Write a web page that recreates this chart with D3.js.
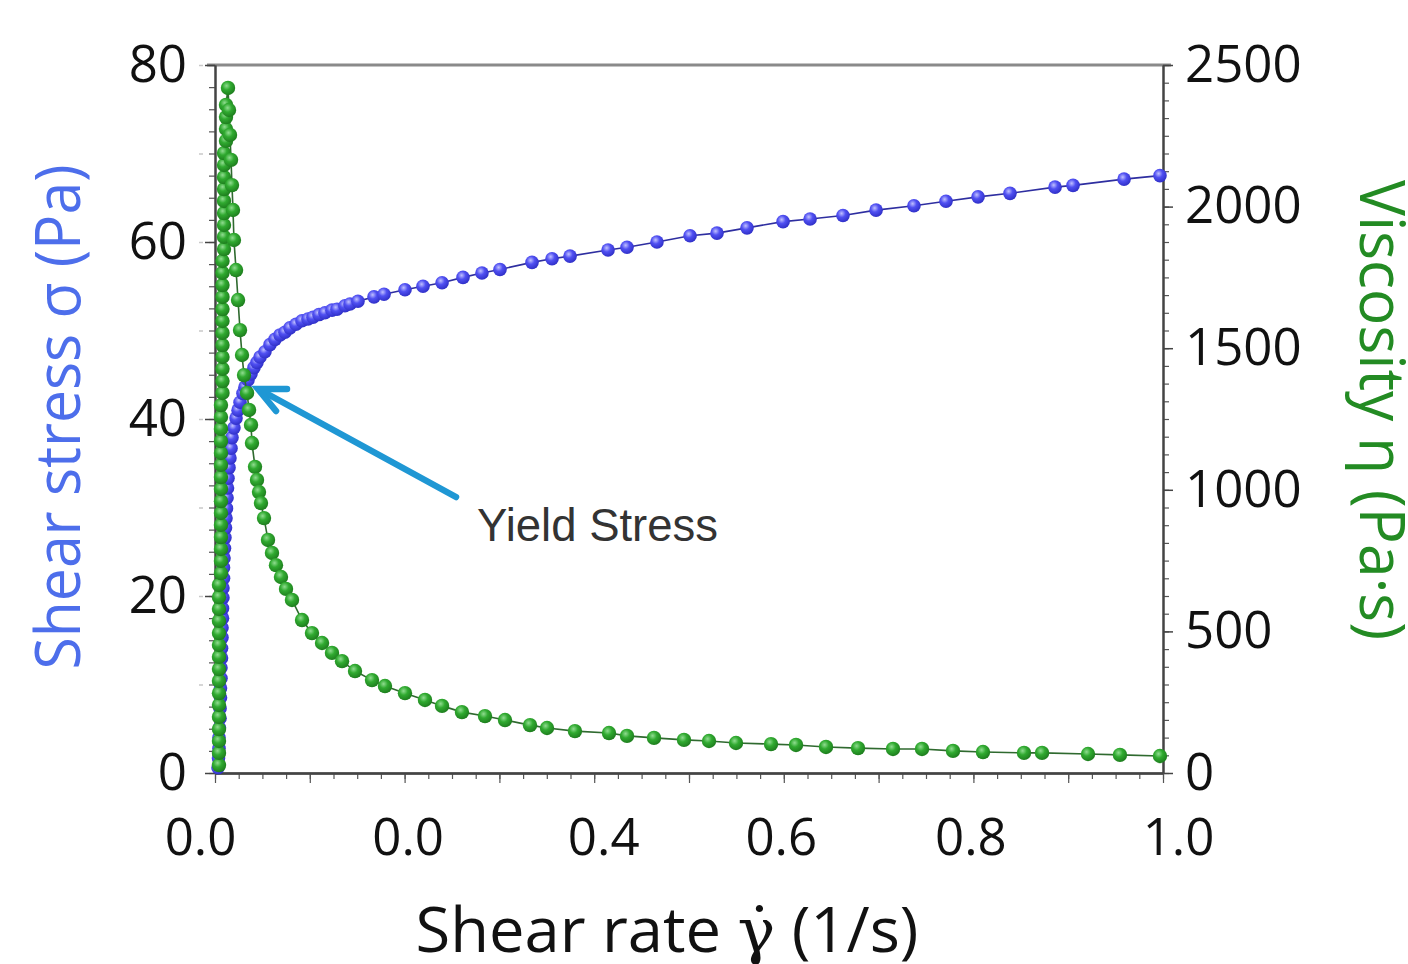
<!DOCTYPE html>
<html>
<head>
<meta charset="utf-8">
<title>Shear stress and viscosity</title>
<script src="https://d3js.org/d3.v7.min.js"></script>
<style>
  html, body { margin: 0; padding: 0; background: #fff; }
  svg { display: block; }
  .tick text { font-family: "Open Sans", sans-serif; font-size: 51px; fill: #111; }
  .axis path.domain { stroke: #444; stroke-width: 2px; }
  .axis .tick line { stroke: #444; stroke-width: 1.5px; }
  .minor .tick line { stroke: #555; stroke-width: 1.2px; }
  .faint .tick line { stroke: #c8c8c8; stroke-width: 1.5px; }
</style>
</head>
<body>
<script>

// shear stress curve (left axis)
var stressRate = [0.0032, 0.0037, 0.0042, 0.0042, 0.0047, 0.0053, 0.0053, 0.0058, 0.0058, 0.0063,
  0.0063, 0.0069, 0.0069, 0.0074, 0.0074, 0.0079, 0.0079, 0.0084, 0.0084, 0.0090,
  0.0090, 0.0095, 0.0100, 0.0105, 0.0111, 0.0116, 0.0121, 0.0127, 0.0132, 0.0137,
  0.0148, 0.0158, 0.0169, 0.0179, 0.0200, 0.0222,
  0.0243, 0.0264, 0.0295, 0.0316, 0.0348, 0.0380, 0.0411, 0.0443, 0.0475, 0.0527,
  0.0580, 0.0633, 0.0686, 0.0738, 0.0791, 0.0854, 0.0918, 0.0981, 0.1034, 0.1097,
  0.1160, 0.1234, 0.1287, 0.1371, 0.1424,
  0.1508, 0.1677, 0.1783, 0.2004, 0.2194, 0.2395, 0.2616, 0.2816, 0.3006,
  0.3344, 0.3555, 0.3745, 0.4146, 0.4346, 0.4662, 0.5011, 0.5295, 0.5612, 0.5992,
  0.6277, 0.6624, 0.6973, 0.7373, 0.7711, 0.8049, 0.8386, 0.8861, 0.9051, 0.9589, 0.9968];
var stress = [0.6, 1.7, 2.8, 4.0, 5.1, 6.2, 7.3, 8.5, 9.6, 10.7,
  11.9, 13.0, 14.1, 15.3, 16.4, 17.5, 18.6, 19.8, 20.9, 22.0,
  23.2, 24.3, 25.4, 26.6, 27.7, 28.8, 29.9, 31.1, 32.2, 33.3,
  34.5, 35.6, 36.7, 37.9, 39.0, 40.1,
  41.0, 41.9, 42.9, 43.6, 44.4, 45.1, 45.8, 46.4, 47.0, 47.6,
  48.4, 49.0, 49.5, 49.8, 50.3, 50.7, 51.1, 51.3, 51.5, 51.8,
  52.0, 52.3, 52.4, 52.8, 53.0,
  53.3, 53.8, 54.1, 54.6, 55.0, 55.4, 56.0, 56.5, 56.9,
  57.7, 58.1, 58.4, 59.1, 59.4, 60.0, 60.7, 61.0, 61.6, 62.3,
  62.6, 63.0, 63.6, 64.1, 64.6, 65.1, 65.5, 66.2, 66.4, 67.1, 67.5];

// viscosity curve (right axis)
var viscRate = [0.0042, 0.0042, 0.0042, 0.0042, 0.0042, 0.0042, 0.0042, 0.0042, 0.0042, 0.0042,
  0.0042, 0.0042, 0.0042, 0.0042, 0.0042, 0.0042,
  0.0063, 0.0063, 0.0063, 0.0063, 0.0063, 0.0063, 0.0063, 0.0063, 0.0063, 0.0063,
  0.0063, 0.0063, 0.0063, 0.0063, 0.0063,
  0.0079, 0.0079, 0.0079, 0.0079, 0.0079, 0.0079, 0.0079, 0.0079, 0.0079, 0.0079,
  0.0079, 0.0079,
  0.0095, 0.0095, 0.0095, 0.0095, 0.0095, 0.0095, 0.0095, 0.0095, 0.0095,
  0.0116, 0.0116, 0.0116, 0.0116,
  0.0137, 0.0148, 0.0158, 0.0169, 0.0179, 0.0190, 0.0200, 0.0222, 0.0243, 0.0264,
  0.0285, 0.0306, 0.0338, 0.0359, 0.0380, 0.0390, 0.0422, 0.0443, 0.0464, 0.0485,
  0.0517, 0.0559, 0.0601, 0.0643, 0.0696, 0.0749, 0.0812, 0.0918, 0.1023, 0.1129,
  0.1234, 0.1340, 0.1477, 0.1656, 0.1793, 0.2004, 0.2215, 0.2395, 0.2605, 0.2848,
  0.3059, 0.3323, 0.3502, 0.3797, 0.4156, 0.4346, 0.4631, 0.4947, 0.5211, 0.5496,
  0.5865, 0.6129, 0.6445, 0.6783, 0.7152, 0.7458, 0.7785, 0.8101, 0.8534, 0.8724,
  0.9209, 0.9546, 0.9968];
var viscosity = [28, 71, 113, 155, 198, 240, 282, 325, 367, 410,
  452, 494, 537, 579, 621, 664,
  706, 749, 791, 833, 876, 918, 960, 1003, 1045, 1088,
  1130, 1172, 1215, 1257, 1299,
  1342, 1384, 1427, 1469, 1511, 1554, 1596, 1638, 1681, 1723,
  1766, 1808,
  1850, 1893, 1935, 1977, 2020, 2062, 2104, 2147, 2189,
  2232, 2274, 2316, 2359,
  2419, 2341, 2253, 2165, 2076, 1988, 1882, 1776, 1670, 1564,
  1476, 1405, 1342, 1282, 1229, 1165, 1081, 1035, 992, 953,
  900, 823, 777, 734, 692, 650, 611, 540, 494, 459,
  424, 395, 360, 328, 307, 282, 258, 237, 215, 201,
  187, 169, 159, 148, 141, 131, 124, 117, 113, 106,
  102, 99, 92, 88, 85, 85, 78, 74, 71, 71,
  67, 64, 60];

var xTickValues = [0, 0.2, 0.4, 0.6, 0.8, 1.0];
var xTickLabels = ["0.0", "0.0", "0.4", "0.6", "0.8", "1.0"];
var leftTicks = [0, 20, 40, 60, 80];
var rightTicks = [0, 500, 1000, 1500, 2000, 2500];

var width = 1408, height = 964;
var plotLeft = 215, plotRight = 1163, plotTop = 65, plotBottom = 773;
// the x labels in the original sit slightly off their ticks
var xLabelShift = [-15, 3, 9, -3, -3, 15];

var svg = d3.select("body").append("svg")
    .attr("width", width)
    .attr("height", height);

var x = d3.scaleLinear().domain([0, 1]).range([plotLeft, plotRight]);
var yL = d3.scaleLinear().domain([0, 80]).range([plotBottom, plotTop]);
var yR = d3.scaleLinear().domain([0, 2500]).range([plotBottom, plotTop]);

var defs = svg.append("defs");
function ballGradient(id, hi, mid, edge) {
  var g = defs.append("radialGradient").attr("id", id)
      .attr("cx", "40%").attr("cy", "35%").attr("r", "65%");
  g.append("stop").attr("offset", "0%").attr("stop-color", hi);
  g.append("stop").attr("offset", "45%").attr("stop-color", mid);
  g.append("stop").attr("offset", "100%").attr("stop-color", edge);
}
ballGradient("blueBall", "#c0c0ff", "#5050f2", "#3030c8");
ballGradient("greenBall", "#90dc90", "#30aa30", "#1e7e1e");

// top border
svg.append("line")
    .attr("x1", plotLeft - 8).attr("x2", plotRight + 8)
    .attr("y1", plotTop).attr("y2", plotTop)
    .attr("stroke", "#8a8a8a").attr("stroke-width", 3);

// faint marks left of the left axis
svg.append("g").attr("class", "faint")
    .attr("transform", "translate(" + (plotLeft - 12) + ",0)")
    .call(d3.axisLeft(yL).tickValues(d3.range(10, 81, 10)).tickSize(4).tickFormat(""))
    .select(".domain").remove();

// left axis
svg.append("g").attr("class", "axis minor")
    .attr("transform", "translate(" + plotLeft + ",0)")
    .call(d3.axisLeft(yL).tickValues(d3.range(0, 80.1, 2.5)).tickSize(6).tickSizeOuter(0).tickFormat(""));
svg.append("g").attr("class", "axis")
    .attr("transform", "translate(" + plotLeft + ",0)")
    .call(d3.axisLeft(yL).tickValues(leftTicks).tickSize(10).tickSizeOuter(0).tickPadding(18));

// right axis
svg.append("g").attr("class", "axis minor")
    .attr("transform", "translate(" + plotRight + ",0)")
    .call(d3.axisRight(yR).tickValues(d3.range(0, 2500.1, 62.5)).tickSize(6).tickSizeOuter(0).tickFormat(""));
svg.append("g").attr("class", "axis")
    .attr("transform", "translate(" + plotRight + ",0)")
    .call(d3.axisRight(yR).tickValues(rightTicks).tickSize(10).tickSizeOuter(0).tickPadding(12)
      .tickFormat(d3.format("d")));

// bottom axis
svg.append("g").attr("class", "axis minor")
    .attr("transform", "translate(0," + plotBottom + ")")
    .call(d3.axisBottom(x).tickValues(d3.range(0, 1.001, 0.025)).tickSize(6).tickSizeOuter(0).tickFormat(""));
svg.append("g").attr("class", "axis minor")
    .attr("transform", "translate(0," + plotBottom + ")")
    .call(d3.axisBottom(x).tickValues(d3.range(0, 1.001, 0.1)).tickSize(10).tickSizeOuter(0).tickFormat(""));
svg.append("g").attr("class", "axis")
    .attr("transform", "translate(0," + plotBottom + ")")
    .call(d3.axisBottom(x).tickValues(xTickValues).tickSize(0).tickSizeOuter(0).tickPadding(46)
      .tickFormat(function(d, i) { return xTickLabels[i]; }))
    .selectAll(".tick text")
    .attr("dx", function(d, i) { return xLabelShift[i]; });

// series
var stressData = stressRate.map(function(r, i) { return [r, stress[i]]; });
var viscData = viscRate.map(function(r, i) { return [r, viscosity[i]]; });

svg.append("path").datum(stressData)
    .attr("fill", "none").attr("stroke", "#2e2ea0").attr("stroke-width", 1.6)
    .attr("d", d3.line().x(function(d) { return x(d[0]); }).y(function(d) { return yL(d[1]); }));
svg.append("g").selectAll("circle").data(stressData).enter().append("circle")
    .attr("cx", function(d) { return x(d[0]); })
    .attr("cy", function(d) { return yL(d[1]); })
    .attr("r", 6.8)
    .attr("fill", "url(#blueBall)");

svg.append("path").datum(viscData)
    .attr("fill", "none").attr("stroke", "#2f6a2f").attr("stroke-width", 1.6)
    .attr("d", d3.line().x(function(d) { return x(d[0]); }).y(function(d) { return yR(d[1]); }));
svg.append("g").selectAll("circle").data(viscData).enter().append("circle")
    .attr("cx", function(d) { return x(d[0]); })
    .attr("cy", function(d) { return yR(d[1]); })
    .attr("r", 7.2)
    .attr("fill", "url(#greenBall)");

// yield stress annotation
svg.append("line")
    .attr("x1", 456).attr("y1", 497).attr("x2", 262).attr("y2", 391)
    .attr("stroke", "#1f97d4").attr("stroke-width", 6.5).attr("stroke-linecap", "round");
svg.append("polyline")
    .attr("points", "287,389 258,389 276,411")
    .attr("fill", "none").attr("stroke", "#1f97d4").attr("stroke-width", 6.5)
    .attr("stroke-linecap", "round").attr("stroke-linejoin", "miter");
svg.append("text")
    .attr("x", 477).attr("y", 541)
    .attr("font-family", "Liberation Sans, Arial, sans-serif")
    .attr("font-size", 45.5).attr("fill", "#333")
    .text("Yield Stress");

// axis titles
svg.append("text")
    .attr("transform", "translate(80,417) rotate(-90)")
    .attr("text-anchor", "middle")
    .attr("font-family", "Open Sans, sans-serif").attr("font-size", 62)
    .attr("fill", "#4d6eeb")
    .attr("textLength", 505).attr("lengthAdjust", "spacingAndGlyphs")
    .text("Shear stress σ (Pa)");

svg.append("text")
    .attr("transform", "translate(1360,410) rotate(90)")
    .attr("text-anchor", "middle")
    .attr("font-family", "Open Sans, sans-serif").attr("font-size", 62)
    .attr("fill", "#238b23")
    .attr("textLength", 460).attr("lengthAdjust", "spacingAndGlyphs")
    .text("Viscosity η (Pa·s)");

var xt = svg.append("text")
    .attr("x", 667).attr("y", 952)
    .attr("text-anchor", "middle")
    .attr("font-family", "Open Sans, sans-serif").attr("font-size", 62)
    .attr("fill", "#111")
    .attr("textLength", 503).attr("lengthAdjust", "spacingAndGlyphs");
xt.append("tspan").text("Shear rate ");
xt.append("tspan").attr("font-family", "DejaVu Serif, serif").text("γ̇");
xt.append("tspan").text(" (1/s)");

</script>
</body>
</html>
